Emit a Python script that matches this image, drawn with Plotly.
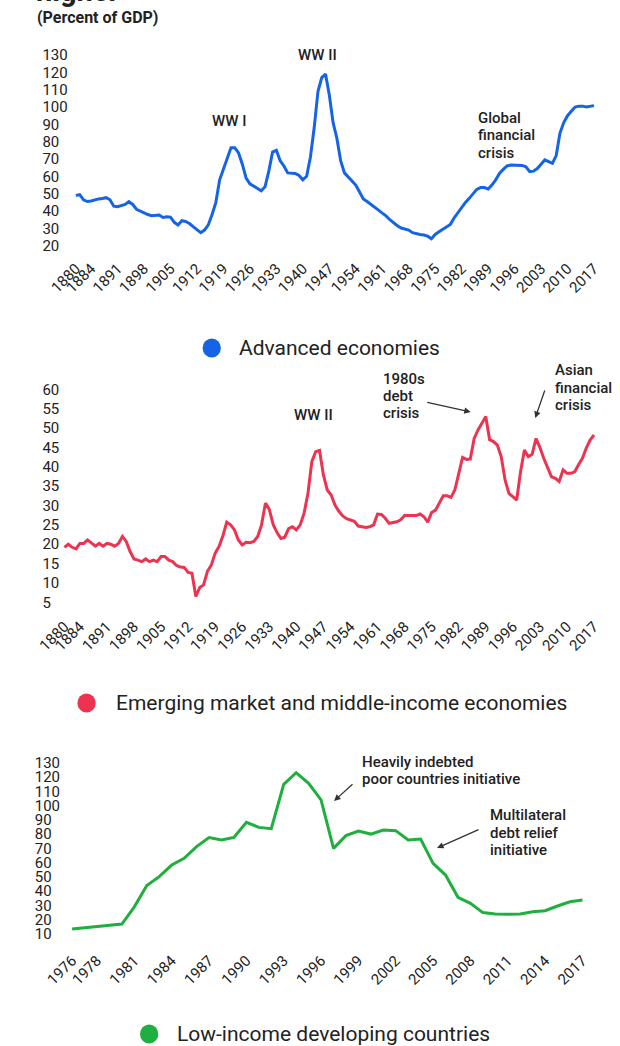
import plotly.graph_objects as go

W, H = 620, 1046

# ---------------- data ----------------
years_long = list(range(1880, 2018))
advanced = [
    49, 49.5, 46.5, 45.5, 45.8, 46.5, 47, 47.2, 47.7, 46.5,
    42.8, 42.5, 43, 43.8, 45.4, 43.8, 41, 40, 38.7, 38,
    37.3, 37.5, 37.7, 36.3, 36.7, 36.5, 33.5, 32, 34.4, 34,
    32.8, 31, 29, 27.5, 29, 32, 38, 45, 58, 64,
    70, 76.5, 76.5, 73.5, 67, 59, 55.7, 54.5, 53, 51.7,
    54, 63, 74, 75, 69, 66, 62, 61.7, 61.7, 60.5,
    58, 60, 71, 88, 109, 117, 119, 107, 91, 82,
    69, 62, 59.5, 57.5, 55, 51, 47, 45.5, 44, 42.3,
    40.5, 38.8, 37.2, 35, 33, 31.5, 30.2, 29.5, 29, 27.5,
    26.8, 26.5, 26.2, 25.5, 24, 26.5, 28, 29.3, 31, 32.3,
    36, 39, 42.5, 45, 47.3, 50, 52.5, 53.5, 53.5, 52.7,
    55, 58, 61.7, 64, 66, 66.5, 66.5, 66.5, 66.3, 65.5,
    62.7, 63, 64.5, 67, 69.5, 68.5, 67.5, 72, 85, 91,
    95, 97.5, 100, 100.5, 100.5, 100, 100.3, 100.8,
]
emerging = [
    19.2, 20, 19.2, 18.8, 20.2, 20.2, 21.1, 20.2, 19.5, 20.2,
    19.5, 20.2, 20, 19.5, 20.2, 22, 20.7, 18.1, 16.2, 15.9,
    15.5, 16.2, 15.5, 15.9, 15.5, 16.8, 16.8, 15.9, 15.5, 14.5,
    14.1, 14, 12.7, 12.5, 6.5, 8.8, 9.5, 13, 14.6, 17.7,
    19.4, 22.2, 25.7, 25, 23.7, 21.1, 19.8, 20.5, 20.4, 20.7,
    22, 25, 30.6, 29, 25.1, 23, 21.5, 21.8, 24, 24.5,
    23.7, 25, 28, 33.1, 41.3, 43.9, 44.2, 37.9, 34, 32.7,
    30.1, 28.5, 27.3, 26.6, 26.2, 25.9, 24.7, 24.5, 24.3, 24.5,
    25, 27.8, 27.7, 26.7, 25.4, 25.6, 25.8, 26.3, 27.4, 27.4,
    27.4, 27.4, 27.8, 27.1, 25.7, 28.2, 28.8, 30.6, 32.5, 32.5,
    32.1, 34, 38.3, 42.4, 41.9, 42, 47.3, 49.5, 51.2, 53,
    47, 46.5, 45.6, 42.6, 36.6, 33.1, 32.3, 31.4, 38.7, 44.3,
    42.6, 43.2, 47.3, 45, 42.2, 39.6, 37.4, 37, 36.2, 39.2,
    38.3, 38.3, 38.7, 40.5, 42.2, 44.8, 46.9, 48.2,
]
years_low = list(range(1976, 2018))
low_income = [
    13.5, 14.4, 15.3, 16.2, 17, 29, 43.9, 50.2, 58.3, 63,
    71.2, 77.5, 75.8, 77.7, 88.2, 84.7, 83.8, 114.8, 123, 115.5,
    103.9, 70, 78.9, 82.1, 80, 82.8, 82.4, 75.8, 76.5, 59.5,
    51.3, 35.7, 31.5, 25, 24, 23.8, 24, 25.6, 26.3, 29.6,
    32.6, 33.8,
]

ticks_long = [1880] + list(range(1884, 2018, 7))
ticks_low = [1976] + list(range(1978, 2018, 3))
yticks_1 = list(range(20, 131, 10))
yticks_2 = list(range(5, 61, 5))
yticks_3 = list(range(10, 131, 10))

series_names = ["Advanced economies",
                "Emerging market and middle-income economies",
                "Low-income developing countries"]
colors = ["#1664E6", "#EC3350", "#1FAF3E"]

# ---------------- helpers (pixel layout) ----------------
# The page body margin is removed (see post_script), so the figure starts at the
# window's top-left corner; OFF converts the layout numbers below to figure pixels.
OFF = 8

def px_x(p):
    return min(1.0, (p + OFF) / W)

def px_y(p):
    return 1 - (p + OFF) / H

def rng(a_px, b_px, v0, p0, v1, p1):
    k = (v1 - v0) / (p1 - p0)
    return [v0 + (a_px - p0) * k, v0 + (b_px - p0) * k]

FONT = "Roboto"
TXT = "#222222"

fig = go.Figure()
fig.add_trace(go.Scatter(x=years_long, y=advanced, mode="lines",
                         line=dict(color=colors[0], width=3),
                         xaxis="x", yaxis="y", showlegend=False))
fig.add_trace(go.Scatter(x=years_long, y=emerging, mode="lines",
                         line=dict(color=colors[1], width=3),
                         xaxis="x2", yaxis="y2", showlegend=False))
fig.add_trace(go.Scatter(x=years_low, y=low_income, mode="lines",
                         line=dict(color=colors[2], width=3),
                         xaxis="x3", yaxis="y3", showlegend=False))

tickfont = dict(family=FONT, size=15, color=TXT)

def xax(dom, r, tv, anchor):
    return dict(domain=[px_x(dom[0]), px_x(dom[1])], range=r, tickvals=tv,
                ticktext=[str(v) for v in tv], tickangle=-45, showgrid=False,
                zeroline=False, showline=False, ticks="", tickfont=tickfont,
                anchor=anchor, fixedrange=True)

def yax(dom, r, tv, pos):
    return dict(domain=[px_y(dom[1]), px_y(dom[0])], range=r, tickvals=tv,
                showgrid=False, zeroline=False, showline=False, ticks="",
                tickfont=tickfont, anchor="free", position=px_x(pos),
                ticklabelposition="inside", fixedrange=True)

# chart 1
x1_dom = (42, 612)
y1_dom = (34, 248)
fig.update_layout(
    xaxis=xax(x1_dom, rng(x1_dom[0], x1_dom[1], 1880, 47, 2017, 585), ticks_long, "y"),
    yaxis=yax(y1_dom, rng(y1_dom[1], y1_dom[0], 130, 47, 20, 237.7), yticks_1, 8),
)
# chart 2
x2_dom = (30, 612)
y2_dom = (370, 606)
fig.update_layout(
    xaxis2=xax(x2_dom, rng(x2_dom[0], x2_dom[1], 1880, 35, 2017, 585), ticks_long, "y2"),
    yaxis2=yax(y2_dom, rng(y2_dom[1], y2_dom[0], 60, 381.3, 5, 594.3), yticks_2, 8),
)
# chart 3
x3_dom = (37, 612)
y3_dom = (744, 940)
fig.update_layout(
    xaxis3=xax(x3_dom, rng(x3_dom[0], x3_dom[1], 1976, 43, 2017, 573), ticks_low, "y3"),
    yaxis3=yax(y3_dom, rng(y3_dom[1], y3_dom[0], 130, 754.7, 10, 926), yticks_3, 0),
)

annotations = []

def text(t, x, y, size=15, xanchor="left", yanchor="middle", weight=500):
    annotations.append(dict(text=t, x=px_x(x), y=px_y(y), xref="paper", yref="paper",
                            xanchor=xanchor, yanchor=yanchor, showarrow=False,
                            font=dict(family=FONT, size=size, color=TXT, weight=weight)))

def lines(tl, x, y0, step=17.5, **kw):
    for i, t in enumerate(tl):
        text(t, x, y0 + i * step, **kw)

def arrow(tail, head):
    annotations.append(dict(text="", x=px_x(head[0]), y=px_y(head[1]), xref="paper", yref="paper",
                            ax=tail[0] - head[0], ay=tail[1] - head[1], showarrow=True,
                            arrowhead=2, arrowsize=1, arrowwidth=1.3, arrowcolor="#333333"))

# titles (the first one is mostly cut off at the top, as in the reference)
text("higher", 3, 2, size=29, yanchor="bottom", weight=700)
text("(Percent of GDP)", 4, 10, size=16, weight=700)

# chart 1 notes
text("WW I", 206, 113, xanchor="center")
text("WW II", 298, 47, xanchor="center")
lines(["Global", "financial", "crisis"], 462, 110)
# chart 2 notes
text("WW II", 294, 407, xanchor="center")
lines(["1980s", "debt", "crisis"], 364, 371, step=17)
lines(["Asian", "financial", "crisis"], 542, 362)
arrow((412, 394), (457, 404))
arrow((534, 381), (524, 410))
# chart 3 notes
lines(["Heavily indebted", "poor countries initiative"], 342, 754, step=17)
lines(["Multilateral", "debt relief", "initiative"], 475, 807)
arrow((335, 775), (315, 793))
arrow((465, 821), (422, 840))

# legends
shapes = []
legend_pos = [(188, 214, 340), (58, 86, 695), (123, 150, 1026)]
for name, col, (cx, tx, cy) in zip(series_names, colors, legend_pos):
    r = 9.5
    shapes.append(dict(type="circle", xref="paper", yref="paper",
                       x0=px_x(cx - r), x1=px_x(cx + r), y0=px_y(cy + r), y1=px_y(cy - r),
                       fillcolor=col, line=dict(width=0)))
    text(name, tx, cy, size=21, weight=400)

fig.update_layout(
    width=W, height=H,
    margin=dict(l=0, r=0, t=0, b=0),
    paper_bgcolor="white", plot_bgcolor="white",
    annotations=annotations, shapes=shapes,
    showlegend=False,
    font=dict(family=FONT, color=TXT),
)

fig.write_html("out.html", config={"displayModeBar": False},
               post_script="document.body.style.margin='0';")
